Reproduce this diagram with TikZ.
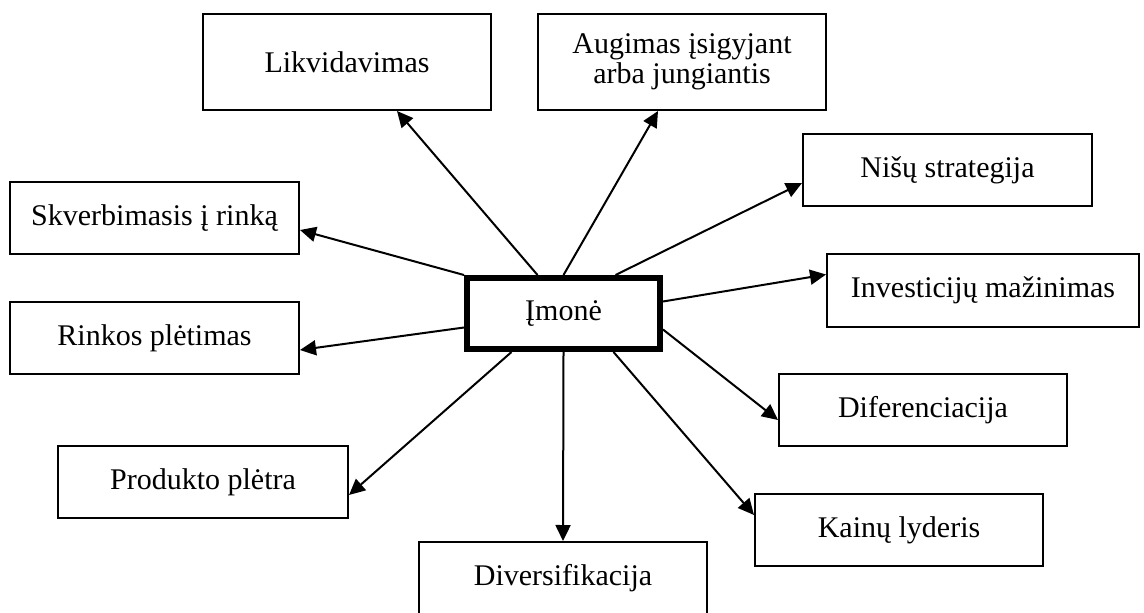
\documentclass[tikz,border=0pt]{standalone}
\usepackage{fontspec}
\setmainfont{Liberation Serif}
\usetikzlibrary{arrows.meta}

\begin{document}
\begin{tikzpicture}[
    x=0.5pt, y=0.5pt,
    every node/.style={draw,align=center,inner sep=0pt,font=\fontsize{15}{15}\selectfont},
    box/.style={line width=1pt,minimum width=144pt,minimum height=36pt},
    firm/.style={line width=3pt,minimum width=96.5pt,minimum height=35.5pt},
    link/.style={line width=1pt,-{Triangle[length=8pt,width=7.5pt]}}
]
\useasboundingbox (0,0) rectangle (1144,612);
\node[firm] (imone) at (563.5,298.5) {Įmonė};
\node[box,minimum height=48pt] (likv) at (347,550) {Likvidavimas};
\node[box,minimum height=48pt] (aug) at (682,550) {Augimas įsigyjant\\arba jungiantis};
\node[box,minimum width=144.5pt] (nisu) at (947.5,442) {Nišų strategija};
\node[box,minimum width=156pt,minimum height=36.5pt] (inv) at (983,321.5) {Investicijų mažinimas};
\node[box,minimum width=144.5pt] (skv) at (154.5,394) {Skverbimasis į rinką};
\node[box,minimum width=144.5pt] (rink) at (154.5,274) {Rinkos plėtimas};
\node[box] (dif) at (923,202) {Diferenciacija};
\node[box] (kain) at (899,82) {Kainų lyderis};
\node[box,minimum width=145pt] (prod) at (203,130) {Produkto plėtra};
\node[box] (div) at (563,34) {Diversifikacija};

\draw[link] ([xshift=-13pt]imone.north) -- ([xshift=25pt]likv.south);
\draw[link] (imone.north) -- ([xshift=-12pt]aug.south);
\draw[link] ([xshift=26pt]imone.north) -- ([yshift=-6.5pt]nisu.west);
\draw[link] (imone.north west) -- ([yshift=-6pt]skv.east);
\draw[link] ([yshift=6pt]imone.east) -- ([yshift=8pt]inv.west);
\draw[link] ([yshift=-7pt]imone.west) -- ([yshift=-6pt]rink.east);
\draw[link] ([yshift=-8pt]imone.east) -- ([yshift=-5pt]dif.west);
\draw[link] ([xshift=-26pt]imone.south) -- ([yshift=-6.5pt]prod.east);
\draw[link] (imone.south) -- (div.north);
\draw[link] ([xshift=25pt]imone.south) -- ([yshift=7.5pt]kain.west);
\end{tikzpicture}
\end{document}
